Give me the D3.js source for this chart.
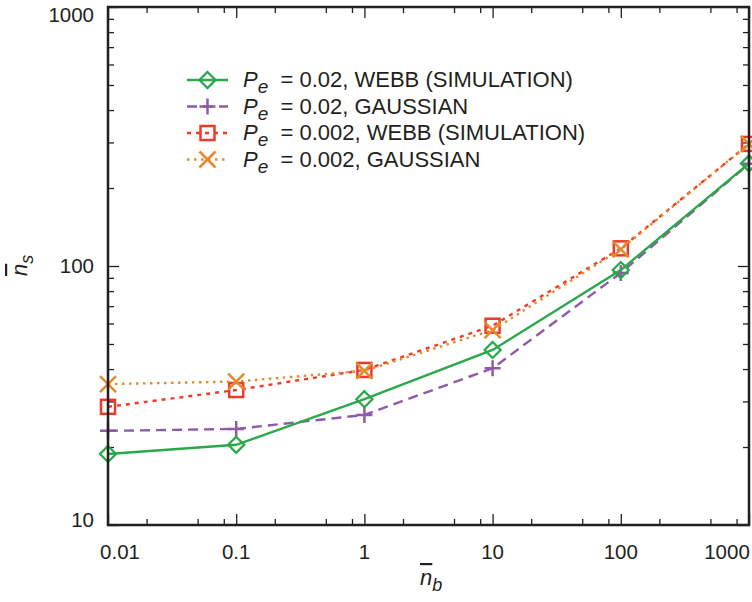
<!DOCTYPE html>
<html>
<head>
<meta charset="utf-8">
<script src="https://cdn.jsdelivr.net/npm/d3@7"></script>
<style>
  body { margin: 0; background: #fff; }
  svg text { font-family: "Liberation Sans", Arial, sans-serif; fill: #231f20; }
</style>
</head>
<body>
<svg width="752" height="602"></svg>
<script>
// data
var nb = [0.01, 0.1, 1, 10, 100, 1000];
var webb002 = [18.8, 20.4, 30.6, 47.4, 96.5, 249];
var gauss002 = [23.1, 23.5, 26.6, 40.3, 94, 248];
var webb0002 = [28.6, 33.2, 39.7, 58.8, 117, 296];
var gauss0002 = [35, 35.8, 39.4, 56.6, 116, 296];

var xMajor = [0.01, 0.1, 1, 10, 100, 1000];
var xMinor = [0.02, 0.05, 0.08, 0.2, 0.5, 0.8, 2, 5, 8, 20, 50, 80, 200, 500, 800];
var yMajor = [10, 100, 1000];
var yMinor = [20, 30, 40, 50, 60, 70, 80, 90, 200, 300, 400, 500, 600, 700, 800, 900];
var xLabels = ["0.01", "0.1", "1", "10", "100", "1000"];
var yLabels = ["10", "100", "1000"];

var series = [
  { pe: "0.02", name: "WEBB (SIMULATION)", vals: webb002, color: "#2aa84a", dash: null, mark: "diamond" },
  { pe: "0.02", name: "GAUSSIAN", vals: gauss002, color: "#8f5aa8", dash: "10,6", mark: "plus" },
  { pe: "0.002", name: "WEBB (SIMULATION)", vals: webb0002, color: "#ed3b2b", dash: "4,5", mark: "square" },
  { pe: "0.002", name: "GAUSSIAN", vals: gauss0002, color: "#e38b2c", dash: "2.5,4.5", mark: "cross" }
];

var svg = d3.select("svg");
var mLeft = 108, mRight = 749, mTop = 7, mBottom = 525;

var x = d3.scaleLog().domain([0.01, 1000]).range([mLeft, mRight]);
var y = d3.scaleLog().domain([10, 1000]).range([mBottom, mTop]);

// ticks on all four sides, pointing in
function tickAxis(axisFn, scale, vals, len, tr) {
  var g = svg.append("g").attr("transform", tr)
    .call(axisFn(scale).tickValues(vals).tickSizeInner(len).tickSizeOuter(0).tickFormat(""));
  g.select(".domain").remove();
  g.selectAll(".tick line").attr("stroke", "#231f20").attr("stroke-width", 1.3);
}
tickAxis(d3.axisBottom, x, xMajor, -11, "translate(0," + mBottom + ")");
tickAxis(d3.axisBottom, x, xMinor, -6, "translate(0," + mBottom + ")");
tickAxis(d3.axisTop, x, xMajor, -11, "translate(0," + mTop + ")");
tickAxis(d3.axisTop, x, xMinor, -6, "translate(0," + mTop + ")");
tickAxis(d3.axisLeft, y, yMajor, -11, "translate(" + mLeft + ",0)");
tickAxis(d3.axisLeft, y, yMinor, -6, "translate(" + mLeft + ",0)");
tickAxis(d3.axisRight, y, yMajor, -11, "translate(" + mRight + ",0)");
tickAxis(d3.axisRight, y, yMinor, -6, "translate(" + mRight + ",0)");

// tick labels
svg.selectAll(".xl").data(xMajor).enter().append("text")
  .attr("x", function (d, i) {
    if (i == 0) return x(d) + 12;
    if (i == xMajor.length - 1) return x(d) - 22;
    return x(d);
  })
  .attr("y", 559).attr("text-anchor", "middle").attr("font-size", 20.5)
  .text(function (d, i) { return xLabels[i]; });

svg.selectAll(".yl").data(yMajor).enter().append("text")
  .attr("x", 94)
  .attr("y", function (d) { return Math.max(15, Math.min(520, y(d))); })
  .attr("dy", "0.35em").attr("text-anchor", "end").attr("font-size", 20.5)
  .text(function (d, i) { return yLabels[i]; });

// axis titles
var xt = svg.append("text").attr("x", 420).attr("y", 585).attr("font-size", 22);
xt.append("tspan").attr("font-style", "italic").style("text-decoration", "overline").text("n");
xt.append("tspan").attr("font-style", "italic").attr("font-size", 18).attr("dy", 6).text("b");

var yt = svg.append("text").attr("transform", "translate(27,276) rotate(-90)").attr("font-size", 22);
yt.append("tspan").attr("font-style", "italic").style("text-decoration", "overline").text("n");
yt.append("tspan").attr("font-style", "italic").attr("font-size", 18).attr("dy", 6).text("s");

// markers
function drawMark(g, type, cx, cy, color) {
  if (type == "diamond") {
    g.append("path").attr("d", "M" + cx + "," + (cy - 8) + "L" + (cx + 8) + "," + cy + "L" + cx + "," + (cy + 8) + "L" + (cx - 8) + "," + cy + "Z")
      .attr("fill", "none").attr("stroke", color).attr("stroke-width", 2.3);
  } else if (type == "square") {
    g.append("rect").attr("x", cx - 7).attr("y", cy - 7).attr("width", 14).attr("height", 14)
      .attr("fill", "none").attr("stroke", color).attr("stroke-width", 2.5);
  } else if (type == "plus") {
    g.append("path").attr("d", "M" + (cx - 8) + "," + cy + "H" + (cx + 8) + "M" + cx + "," + (cy - 8) + "V" + (cy + 8))
      .attr("stroke", color).attr("stroke-width", 2.5);
  } else {
    g.append("path").attr("d", "M" + (cx - 8) + "," + (cy - 8) + "L" + (cx + 8) + "," + (cy + 8) + "M" + (cx + 8) + "," + (cy - 8) + "L" + (cx - 8) + "," + (cy + 8))
      .attr("stroke", color).attr("stroke-width", 2.5);
  }
}

var line = d3.line().x(function (d, i) { return x(nb[i]); }).y(function (d) { return y(d); });

var drawOrder = [1, 0, 2, 3];
drawOrder.forEach(function (k) {
  var s = series[k];
  var g = svg.append("g");
  g.append("path").datum(s.vals).attr("d", line)
    .attr("fill", "none").attr("stroke", s.color).attr("stroke-width", 2.4)
    .attr("stroke-dasharray", s.dash);
  s.vals.forEach(function (v, i) { drawMark(g, s.mark, x(nb[i]), y(v), s.color); });
});

// legend
var legRows = [80, 106.5, 133, 159.5];
series.forEach(function (s, i) {
  var ly = legRows[i];
  var g = svg.append("g");
  g.append("line").attr("x1", 187).attr("x2", 228).attr("y1", ly).attr("y2", ly)
    .attr("stroke", s.color).attr("stroke-width", 2.4).attr("stroke-dasharray", s.dash);
  drawMark(g, s.mark, 207.5, ly, s.color);
  var t = g.append("text").attr("x", 243).attr("y", ly + 7).attr("font-size", 22);
  t.append("tspan").attr("font-style", "italic").text("P");
  t.append("tspan").attr("font-style", "italic").attr("font-size", 19).attr("dy", 6).text("e");
  t.append("tspan").attr("dy", -6).text("\u00a0 = " + s.pe + ", " + s.name);
});

// frame
svg.append("rect").attr("x", mLeft).attr("y", mTop).attr("width", mRight - mLeft).attr("height", mBottom - mTop)
  .attr("fill", "none").attr("stroke", "#231f20").attr("stroke-width", 2.5);
</script>
</body>
</html>
